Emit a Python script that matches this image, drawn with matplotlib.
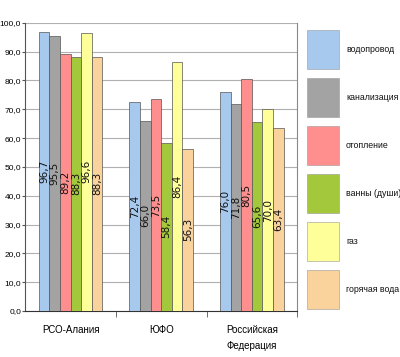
import matplotlib
matplotlib.use("Agg")
import matplotlib.pyplot as plt
from matplotlib.patches import Rectangle
from matplotlib.ticker import FixedLocator
from matplotlib import font_manager
import numpy as np

names = {f.name for f in font_manager.fontManager.ttflist}
narrow = [n for n in ["Liberation Sans Narrow", "DejaVu Sans Condensed"] if n in names]
plt.rcParams["font.family"] = narrow + ["Liberation Sans", "DejaVu Sans"]

regions = ["РСО-Алания", "ЮФО", "Российская\nФедерация"]
series = ["водопровод", "канализация", "отопление", "ванны (души)", "газ", "горячая вода"]
vodoprovod = [96.7, 72.4, 76.0]
kanalizacia = [95.5, 66.0, 71.8]
otoplenie = [89.2, 73.5, 80.5]
vanny = [88.3, 58.4, 65.6]
gaz = [96.6, 86.4, 70.0]
goryachaya = [88.3, 56.3, 63.4]
values = [vodoprovod, kanalizacia, otoplenie, vanny, gaz, goryachaya]
colors = ["#a8c9ee", "#a3a3a3", "#ff8e8e", "#a3c83c", "#ffff99", "#f9d29c"]

fig = plt.figure(figsize=(4.0, 3.57), dpi=100)
ax = fig.add_axes([0.063, 0.129, 0.68, 0.807])

x = np.arange(len(regions))
w = 0.117
for i, (name, vals, c) in enumerate(zip(series, values, colors)):
    xs = x + (i - 2.5) * w
    ax.bar(xs, vals, width=w, color=c, edgecolor="#555555", linewidth=0.5,
           label=name, zorder=3)
    for xi, v in zip(xs, vals):
        ax.text(xi, v / 2, f"{v:.1f}".replace(".", ","), rotation=90,
                ha="center", va="center", fontsize=7.5, family="DejaVu Sans",
                color="#111111", zorder=4)

ax.set_xlim(-0.5, 2.5)
ax.set_ylim(0, 100)
ax.set_yticks(np.arange(0, 101, 10))
ax.set_yticklabels([f"{t:.1f}".replace(".", ",") for t in np.arange(0, 101, 10)], fontsize=6)
ax.yaxis.grid(True, color="#b0b0b0", linewidth=0.8, zorder=0)
ax.set_xticks(x)
ax.set_xticklabels(regions, fontsize=7, linespacing=1.75)
ax.tick_params(axis="x", length=0, pad=10)
ax.xaxis.set_minor_locator(FixedLocator([0.5, 1.5, 2.5]))
ax.tick_params(axis="x", which="minor", length=4, color="#555555")
ax.tick_params(axis="y", length=2, color="#555555", pad=1)
ax.spines["top"].set_visible(False)
ax.spines["right"].set_color("#888888")
ax.spines["left"].set_color("#555555")
ax.spines["bottom"].set_color("#333333")

# legend drawn by hand in pixel coordinates on an overlay axes
leg = fig.add_axes([0, 0, 1, 1], facecolor="none")
leg.set_xlim(0, 400)
leg.set_ylim(357, 0)
leg.axis("off")
for i, (name, c) in enumerate(zip(series, colors)):
    top = 30 + 48 * i
    leg.add_patch(Rectangle((307, top), 32, 39, facecolor=c, edgecolor="#999999", linewidth=0.4))
    leg.text(346, top + 19.5, name, fontsize=6.3, ha="left", va="center", color="#111111")

fig.savefig("out.png", dpi=100)
